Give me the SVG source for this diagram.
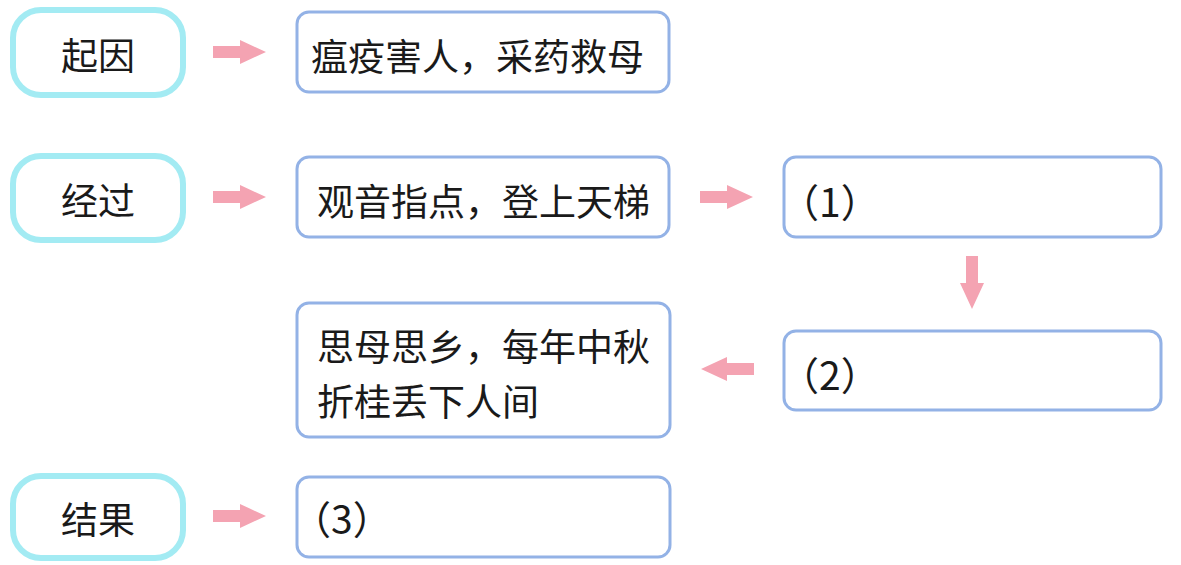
<svg xmlns="http://www.w3.org/2000/svg" width="1181" height="565" viewBox="0 0 1181 565">
<defs>
<style>
.cy{fill:#fff;stroke:#a3ebf3;stroke-width:6}
.bl{fill:#fff;stroke:#93b2e6;stroke-width:3}
.t{font-family:"Noto Sans CJK SC","Noto Sans",sans-serif;font-size:37px;fill:#1a1a1a;dominant-baseline:central}
.p{font-size:39px}
.ar{fill:#f4a3b2}
</style>
<path id="arr" d="M0,-6 H27 V-12 L53,0 L27,12 V6 H0 Z"/>
</defs>
<rect width="1181" height="565" fill="#fff"/>
<g id="qiyin"><rect class="cy" x="13" y="10" width="170" height="85" rx="28"/><text class="t" x="98" y="54" text-anchor="middle">起因</text></g>
<g id="jingguo"><rect class="cy" x="13" y="156" width="170" height="84" rx="28"/><text class="t" x="98" y="199" text-anchor="middle">经过</text></g>
<g id="jieguo"><rect class="cy" x="13" y="476" width="170" height="82" rx="28"/><text class="t" x="98" y="518" text-anchor="middle">结果</text></g>
<g id="n1"><rect class="bl" x="297" y="12" width="372" height="80" rx="12"/><text class="t" x="311" y="55">瘟疫害人，采药救母</text></g>
<g id="n2"><rect class="bl" x="297" y="157" width="372" height="80" rx="12"/><text class="t" x="317" y="200">观音指点，登上天梯</text></g>
<g id="n3"><rect class="bl" x="784" y="157" width="377" height="80" rx="12"/><text class="t p" x="780" y="200">（1）</text></g>
<g id="n4"><rect class="bl" x="784" y="331" width="377" height="79" rx="12"/><text class="t p" x="780" y="373">（2）</text></g>
<g id="n5"><rect class="bl" x="297" y="303" width="373" height="134" rx="12"/><text class="t" x="317" y="345">思母思乡，每年中秋</text><text class="t" x="317" y="400">折桂丢下人间</text></g>
<g id="n6"><rect class="bl" x="297" y="477" width="373" height="80" rx="12"/><text class="t p" x="292" y="517">（3）</text></g>
<g id="connectors" class="ar">
<use href="#arr" x="213" y="52"/>
<use href="#arr" x="213" y="197"/>
<use href="#arr" x="213" y="516"/>
<use href="#arr" x="700" y="197"/>
<use href="#arr" transform="translate(972,256) rotate(90)"/>
<use href="#arr" transform="translate(754,369) rotate(180)"/>
</g>
</svg>
